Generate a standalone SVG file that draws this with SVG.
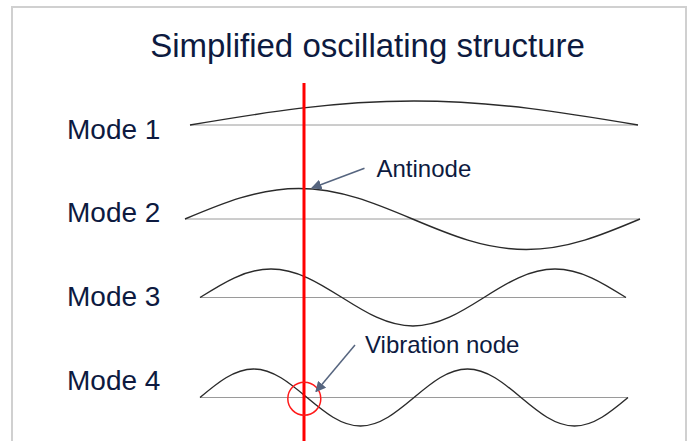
<svg xmlns="http://www.w3.org/2000/svg" width="692" height="441" viewBox="0 0 692 441">
<style>
.txt{font-family:"Liberation Sans",Arial,sans-serif;fill:#0d1a40}
.base{stroke:#9a9a9a;stroke-width:1;fill:none}
.wave{stroke:#2a2a2a;stroke-width:1.4;fill:none}
.arr{stroke:#56657f;stroke-width:1.5;fill:none;marker-end:url(#ah)}
</style>
<defs>
<marker id="ah" viewBox="0 0 10 10" refX="9" refY="5" markerWidth="7" markerHeight="7" markerUnits="strokeWidth" orient="auto">
<path d="M0,0 L10,5 L0,10 z" fill="#56657f"/>
</marker>
</defs>
<rect width="692" height="441" fill="#ffffff"/>
<path d="M12,441 V7 H686 V441" fill="none" stroke="#d0d0d0" stroke-width="2"/>
<g id="title"><text class="txt" x="367.5" y="57" font-size="33" text-anchor="middle">Simplified oscillating structure</text></g>
<g id="mode1">
<text class="txt" x="67" y="139" font-size="28">Mode 1</text>
<line class="base" x1="190" y1="125" x2="638" y2="125"/>
<path class="wave" stroke-width="1.2" d="M190,125 C263,112.7 332.9,101 414,101 C495.1,101 565,112.7 638,125"/>
</g>
<g id="mode2">
<text class="txt" x="67" y="222" font-size="28">Mode 2</text>
<line class="base" x1="185" y1="219" x2="640" y2="219"/>
<path class="wave" d="M185,219 C222.08,203.37 257.57,188.5 298.75,188.5 C339.93,188.5 375.42,203.37 412.5,219 C449.58,234.63 485.07,249.5 526.25,249.5 C567.43,249.5 602.92,234.63 640,219"/>
</g>
<g id="mode3">
<text class="txt" x="67" y="306" font-size="28">Mode 3</text>
<line class="base" x1="200" y1="297.5" x2="626" y2="297.5"/>
<path class="wave" d="M200,297.5 C223.15,282.9 245.3,269 271,269 C296.7,269 318.85,282.9 342,297.5 C365.15,312.1 387.3,326 413,326 C438.7,326 460.85,312.1 484,297.5 C507.15,282.9 529.3,269 555,269 C580.7,269 602.85,282.9 626,297.5"/>
</g>
<g id="mode4">
<text class="txt" x="67" y="390" font-size="28">Mode 4</text>
<line class="base" x1="200" y1="397.5" x2="628" y2="397.5"/>
<path class="wave" d="M200,397.5 C217.44,382.9 234.13,369 253.5,369 C272.87,369 289.56,382.9 307,397.5 C324.44,412.1 341.13,426 360.5,426 C379.87,426 396.56,412.1 414,397.5 C431.44,382.9 448.13,369 467.5,369 C486.87,369 503.56,382.9 521,397.5 C538.44,412.1 555.13,426 574.5,426 C593.87,426 610.56,412.1 628,397.5"/>
</g>
<g id="marker-line"><line x1="304" y1="83" x2="304" y2="441" stroke="#ff0000" stroke-width="3"/></g>
<g id="node-circle"><circle cx="304.3" cy="398.7" r="16.5" fill="none" stroke="#ff1a1a" stroke-width="1.5"/></g>
<g id="antinode-label"><text class="txt" x="376.5" y="177" font-size="24">Antinode</text></g>
<g id="vibration-node-label"><text class="txt" x="365" y="353" font-size="24">Vibration node</text></g>
<g id="connectors">
<line class="arr" x1="364.5" y1="168.3" x2="312" y2="188"/>
<line class="arr" x1="355" y1="345" x2="316" y2="391.5"/>
</g>
</svg>
